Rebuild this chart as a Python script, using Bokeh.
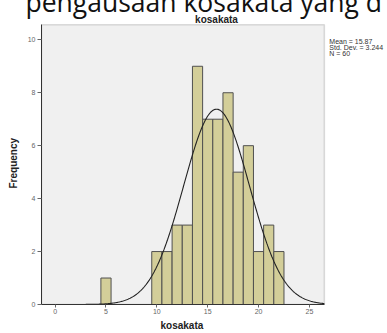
import numpy as np
from bokeh.plotting import figure
from bokeh.models import Label, Range1d, FixedTicker, BoxAnnotation, Title
from bokeh.embed import file_html
from bokeh.resources import INLINE

# ---- data ----
scores = [5, 10, 11, 12, 13, 14, 15, 16, 17, 18, 19, 20, 21, 22]
freqs = [1, 2, 2, 3, 3, 9, 7, 7, 8, 5, 6, 2, 3, 2]
mean = 15.87
std_dev = 3.244
n_total = 60
bin_width = 1.0
x_ticks = [0, 5, 10, 15, 20, 25]
y_ticks = [0, 2, 4, 6, 8, 10]
title_text = "kosakata"
x_label = "kosakata"
y_label = "Frequency"
header_text = "pengausaan kosakata yang d"
stats_lines = ["Mean = 15.87", "Std. Dev. = 3.244", "N = 60"]

FONT = "Liberation Sans"

# geometry
W, H = 387, 333
FL, FB = 39, 304          # frame left / frame bottom in px
PXX = 10.23               # px per x unit
PXY = 26.47               # px per y unit
AX0, AX1 = -1.34, 26.47   # grey plot area in x
AY0, AY1 = 0.0, 10.57     # grey plot area in y
X0 = AX0
X1 = AX0 + (W - FL) / PXX
Y0 = 0.0
Y1 = FB / PXY

p = figure(width=W, height=H, output_backend="svg", toolbar_location=None,
           x_range=Range1d(X0, X1), y_range=Range1d(Y0, Y1),
           min_border_left=FL, min_border_right=0, min_border_top=0,
           min_border_bottom=H - FB)

p.background_fill_color = "white"
p.border_fill_color = "white"
p.outline_line_color = None
p.xgrid.visible = False
p.ygrid.visible = False

# slide header (cut off by the top edge)
p.title.text = header_text
p.title.text_font = "Open Sans"
p.title.text_font_size = "26.5px"
p.title.text_font_style = "normal"
p.title.text_color = "#111111"
p.title.align = "left"
p.title.offset = -16
p.title.vertical_align = "bottom"
p.title.standoff = -38

# grey plot area with border
p.add_layout(BoxAnnotation(left=AX0, right=AX1, bottom=AY0, top=AY1,
                           fill_color="#f0f0f0", fill_alpha=1.0,
                           line_color="#8c8c8c", line_width=1.5,
                           level="underlay"))

left = [s - bin_width / 2 for s in scores]
right = [s + bin_width / 2 for s in scores]
p.quad(left=left, right=right, top=freqs, bottom=0,
       fill_color="#d3ce99", line_color="#505050", line_width=1)

xs = np.linspace(AX0, AX1, 400)
ys = n_total * bin_width * np.exp(-0.5 * ((xs - mean) / std_dev) ** 2) / (std_dev * np.sqrt(2 * np.pi))
p.line(xs, ys, line_color="#222222", line_width=1.1)

for ax in (p.xaxis[0], p.yaxis[0]):
    ax.major_label_text_font = FONT
    ax.major_label_text_font_size = "7px"
    ax.major_label_text_color = "#666666"
    ax.axis_line_color = "#333333"
    ax.major_tick_line_color = "#666666"
    ax.major_tick_in = 0
    ax.minor_tick_line_color = None

p.xaxis.ticker = FixedTicker(ticks=x_ticks)
p.yaxis.ticker = FixedTicker(ticks=y_ticks)
p.xaxis.bounds = (AX0, AX1)
p.yaxis.bounds = (AY0, AY1)
p.xaxis.major_tick_out = 3
p.yaxis.major_tick_out = 4
p.xaxis.major_label_standoff = 1
p.yaxis.major_label_standoff = 2

# axis titles, centred on the grey plot area
p.add_layout(Title(text=y_label, text_font=FONT, text_font_size="10px",
                   text_font_style="bold", text_color="#222222",
                   align="left", offset=116, vertical_align="bottom",
                   standoff=11), "left")
p.add_layout(Title(text=x_label, text_font=FONT, text_font_size="10px",
                   text_font_style="bold", text_color="#222222",
                   align="left", offset=119, vertical_align="bottom",
                   standoff=3), "below")


def px_to_x(px):
    return AX0 + (px - FL) / PXX


def py_to_y(py):
    return (FB - py) / PXY


# chart title
p.add_layout(Label(x=px_to_x(215), y=py_to_y(18.5), text=title_text,
                   text_font=FONT, text_font_size="10px", text_font_style="bold",
                   text_color="#222222", text_align="center",
                   text_baseline="alphabetic"))

# statistics text on the right
for i, line in enumerate(stats_lines):
    p.add_layout(Label(x=px_to_x(328.5), y=py_to_y(40.5 + 6 * i), text=line,
                       text_font=FONT, text_font_size="7px",
                       text_color="#333333", text_align="left",
                       text_baseline="alphabetic"))

open("out.html", "w").write(file_html(p, INLINE))
